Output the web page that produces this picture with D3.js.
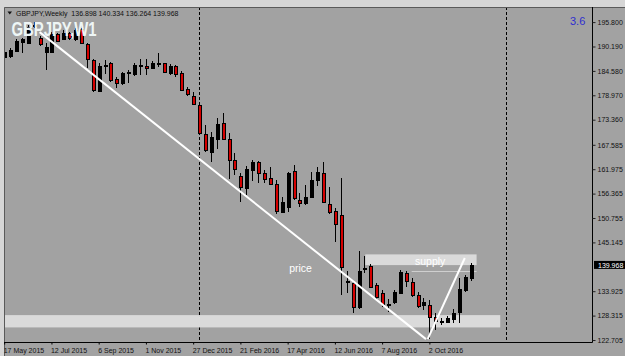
<!DOCTYPE html>
<html><head><meta charset="utf-8">
<script src="https://cdn.jsdelivr.net/npm/d3@7"></script>
<style>
body{margin:0;background:#a2a2a2;}
svg{display:block;font-family:"Liberation Sans",Arial,sans-serif;}
</style></head><body>
<script>
const W = 625, H = 356;

// weekly GBPJPY bars
const opens = [187.77,188.00,189.22,191.29,191.06,195.01,192.07,188.99,188.99,193.06,
  191.98,193.22,191.84,194.14,190.76,187.08,180.02,185.82,186.46,182.78,
  181.72,184.02,183.79,185.86,185.70,185.17,186.23,186.32,184.16,185.70,
  184.16,180.34,178.80,176.73,170.06,165.99,168.91,172.66,168.91,164.08,
  160.40,157.57,161.78,163.69,161.16,159.87,158.56,152.19,153.34,161.62,
  154.88,154.19,155.64,159.48,161.21,153.96,152.35,151.43,136.14,135.86,
  130.27,139.01,139.70,135.33,133.56,131.07,131.49,133.56,138.16,136.09,
  133.03,130.73,130.73,128.04,127.17,126.89,127.44,129.19,134.18,136.898];
const highs = [190.07,189.84,191.84,192.07,195.13,195.86,192.60,190.92,193.59,193.36,
  193.98,193.59,194.37,194.37,191.06,187.24,186.32,187.08,186.69,183.24,
  184.39,184.78,186.32,187.24,187.24,186.92,188.62,186.46,186.16,185.93,
  184.55,180.94,179.79,177.12,172.13,170.59,173.67,174.82,170.36,165.76,
  161.16,162.70,164.08,163.92,161.78,162.40,159.48,155.64,161.39,162.93,
  156.42,158.33,161.32,162.59,163.69,157.87,153.04,159.94,138.55,136.25,
  143.27,142.00,140.09,135.86,134.18,132.04,134.18,138.78,138.62,136.87,
  133.79,132.27,131.88,128.82,127.67,128.20,129.74,136.87,137.63,140.334];
const lows = [187.08,187.54,188.99,188.62,190.92,194.37,190.30,184.78,188.62,191.29,
  191.68,191.68,191.52,190.92,185.17,179.79,179.95,183.86,182.09,180.57,
  181.33,181.72,183.40,183.63,183.63,184.94,185.54,184.02,183.63,183.24,
  179.95,178.80,176.73,169.83,165.99,163.69,166.54,168.68,159.64,160.63,
  154.49,156.03,159.32,158.72,158.72,158.33,151.66,151.82,152.19,154.88,
  153.34,153.85,155.50,158.10,154.19,151.66,145.29,133.15,133.49,128.82,
  129.81,138.20,134.57,132.04,130.34,129.19,130.96,133.26,134.94,132.64,
  129.97,129.58,122.90,124.98,126.13,126.52,126.52,126.66,133.79,136.264];
const closes = [188.92,189.38,191.52,191.84,194.60,195.13,190.76,190.14,193.06,191.52,
  193.36,192.07,193.98,191.06,187.24,180.18,185.70,186.05,182.48,181.72,
  184.02,184.39,185.93,186.00,185.17,186.46,186.32,184.39,185.70,183.86,
  180.18,179.26,176.96,170.22,166.38,169.30,172.29,168.91,164.08,161.94,
  157.80,161.94,163.69,161.16,159.64,158.56,152.35,154.49,161.02,155.27,
  154.26,155.64,159.48,161.25,154.49,152.24,149.36,139.54,136.32,130.27,
  138.55,139.24,134.94,132.64,130.96,130.89,133.79,138.39,136.32,133.03,
  130.50,131.49,128.04,127.12,127.07,127.67,128.96,134.34,137.24,139.968];

const timeTicks = ["17 May 2015","12 Jul 2015","6 Sep 2015","1 Nov 2015","27 Dec 2015",
  "21 Feb 2016","17 Apr 2016","12 Jun 2016","7 Aug 2016","2 Oct 2016"];
const priceTicks = [195.800,190.190,184.580,178.970,173.360,167.585,161.975,
  156.365,150.755,145.145,133.925,128.315,122.705];
const lastPrice = 139.968;
const yearStarts = ["2016-01-03","2017-01-01"];

// drawn objects: [date, price]
const trendDown = [["2015-06-28",193.5],["2016-09-28",122.9]];
const trendUp = [["2016-09-30",122.9],["2016-11-13",141.55]];
const demandZone = {from:"2015-05-10", to:"2016-12-25", top:128.43, bottom:125.6};
const supplyZone = {from:"2016-07-18", to:"2016-11-27", top:142.39, bottom:139.93};

const parseIso = d3.utcParse("%Y-%m-%d");
const parseTick = d3.utcParse("%d %b %Y");
const weeks = d3.utcSunday.range(parseIso("2015-05-17"), parseIso("2016-11-21"));
const bars = weeks.map((d,i) => ({d, o:opens[i], h:highs[i], l:lows[i], c:closes[i]}));

const pLeft = 4, pTop = 7, pRight = 592, pBottom = 342;

const x = d3.scaleUtc().domain([weeks[0], weeks[weeks.length-1]]).range([4.2, 470.7]);
const y = d3.scaleLinear().domain([122.705, 195.8]).range([340, 22.1]);

const svg = d3.select("body").append("svg").attr("width", W).attr("height", H);

svg.append("rect").attr("width", W).attr("height", H).attr("fill", "#a2a2a2");
// window frame
svg.append("rect").attr("width", W).attr("height", pTop).attr("fill", "#d6d6d6");
svg.append("rect").attr("width", pLeft).attr("height", H).attr("fill", "#d6d6d6");

svg.append("clipPath").attr("id", "plot")
  .append("rect").attr("x", pLeft).attr("y", pTop).attr("width", pRight-pLeft).attr("height", pBottom-pTop);
const plot = svg.append("g").attr("clip-path", "url(#plot)");

// year separators
plot.selectAll("line.sep").data(yearStarts).join("line")
  .attr("x1", d => Math.round(x(parseIso(d))) + 0.5)
  .attr("x2", d => Math.round(x(parseIso(d))) + 0.5)
  .attr("y1", pTop).attr("y2", pBottom)
  .attr("stroke", "#000").attr("stroke-dasharray", "3,2");

// rectangles (drawn as background)
[demandZone, supplyZone].forEach(z => {
  plot.append("rect")
    .attr("x", x(parseIso(z.from))).attr("y", y(z.top))
    .attr("width", x(parseIso(z.to)) - x(parseIso(z.from)))
    .attr("height", y(z.bottom) - y(z.top))
    .attr("fill", "#dadada");
});
plot.append("line")
  .attr("x1", x(parseIso("2016-09-11"))).attr("x2", x(parseIso(supplyZone.to)))
  .attr("y1", Math.round(y(138.6)) + 0.5).attr("y2", Math.round(y(138.6)) + 0.5)
  .attr("stroke", "#cfcfcf");

// candles
const cg = plot.append("g").attr("shape-rendering", "crispEdges");
cg.selectAll("line").data(bars).join("line")
  .attr("x1", d => Math.round(x(d.d)) + 0.5)
  .attr("x2", d => Math.round(x(d.d)) + 0.5)
  .attr("y1", d => Math.round(y(d.h)))
  .attr("y2", d => Math.round(y(d.l)))
  .attr("stroke", "#000");
cg.selectAll("rect").data(bars).join("rect")
  .attr("x", d => Math.round(x(d.d)) - 0.5)
  .attr("width", 3)
  .attr("y", d => Math.round(y(Math.max(d.o, d.c))) + 0.5)
  .attr("height", d => Math.max(1, Math.round(y(Math.min(d.o, d.c))) - Math.round(y(Math.max(d.o, d.c)))))
  .attr("fill", d => d.c >= d.o ? "#000" : "#d40000")
  .attr("stroke", "#000");

// trend lines
const line = d3.line().x(p => x(parseIso(p[0]))).y(p => y(p[1]));
[trendDown, trendUp].forEach(t => {
  plot.append("path").attr("d", line(t))
    .attr("stroke", "#fff").attr("stroke-width", 2).attr("fill", "none");
});

// labels on chart
plot.append("text").attr("x", x(parseIso("2016-04-17")) + 1.5).attr("y", y(138.3))
  .attr("fill", "#fff").attr("font-size", 10.5).text("price");
plot.append("text").attr("x", x(parseIso("2016-09-15"))).attr("y", y(139.85))
  .attr("fill", "#fff").attr("font-size", 10.5).text("supply");

// frame lines
svg.append("path")
  .attr("d", `M${pLeft+0.5},${H}V${pTop+0.5}H${W}`)
  .attr("stroke", "#5a5a5a").attr("fill", "none");
svg.append("path")
  .attr("d", `M${pLeft},${pBottom+0.5}H${pRight+0.5}V${pTop}`)
  .attr("stroke", "#000").attr("fill", "none");

// price axis
const yAxis = svg.append("g").attr("transform", `translate(${pRight+0.5},0)`)
  .call(d3.axisRight(y).tickValues(priceTicks).tickFormat(d3.format(".3f")).tickSize(3).tickPadding(2));
yAxis.select(".domain").remove();
yAxis.selectAll("text").attr("font-size", 7).attr("fill", "#111")
  .attr("font-family", "'Liberation Sans',Arial,sans-serif");
yAxis.selectAll("line").attr("stroke", "#222");

const lp = svg.append("g").attr("transform", `translate(${pRight+2},${y(lastPrice)})`);
lp.append("rect").attr("x", 0).attr("y", -4).attr("width", 31).attr("height", 8).attr("fill", "#000");
lp.append("text").attr("x", 4).attr("y", 2.6).attr("font-size", 7).attr("fill", "#fff").text(lastPrice.toFixed(3));

// time axis
const xAxis = svg.append("g").attr("transform", `translate(0,${pBottom+0.5})`)
  .call(d3.axisBottom(x).tickValues(timeTicks.map(parseTick)).tickSize(2).tickFormat((d,i) => timeTicks[i]));
xAxis.select(".domain").remove();
xAxis.selectAll("line").attr("stroke", "#000");
xAxis.selectAll("text").attr("text-anchor", "start").attr("dx", -1).attr("dy", "0.75em")
  .attr("font-size", 7).attr("fill", "#111")
  .attr("font-family", "'Liberation Sans',Arial,sans-serif");

// header
svg.append("path").attr("d", "M7.5,11.5h4.5l-2.25,3z").attr("fill", "#111");
svg.append("text").attr("x", 16).attr("y", 16).attr("font-size", 7).attr("fill", "#111")
  .attr("xml:space", "preserve")
  .text(`GBPJPY,Weekly  ${opens[79].toFixed(3)} ${highs[79].toFixed(3)} ${lows[79].toFixed(3)} ${closes[79].toFixed(3)}`);
svg.append("text").attr("x", 11.5).attr("y", 36).attr("font-size", 21).attr("font-weight", "bold")
  .attr("font-family", "'Liberation Sans Narrow','Liberation Sans',Arial,sans-serif")
  .attr("textLength", 85).attr("lengthAdjust", "spacingAndGlyphs")
  .attr("fill", "#eef6f6").text("GBPJPY,W1");
svg.append("text").attr("x", 570).attr("y", 25).attr("font-size", 11).attr("fill", "#2e2ed0").text("3.6");
</script>
</body></html>
